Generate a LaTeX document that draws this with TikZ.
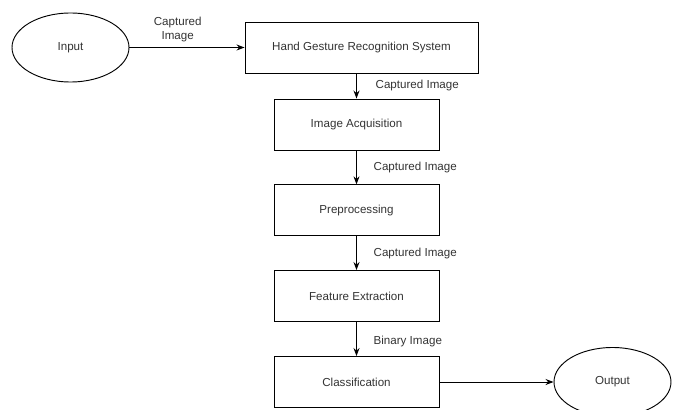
\documentclass[tikz,border=0pt]{standalone}
\usepackage{fontspec}
\setmainfont{Liberation Sans}
\usetikzlibrary{arrows.meta,shapes.geometric}

\begin{document}
\begin{tikzpicture}[x=0.75pt,y=-0.75pt,
		>={Stealth[length=6pt,width=4.5pt]},
		block/.style={draw,line width=0.7pt,minimum width=123.75pt,minimum height=38.25pt,inner sep=0pt,
			font=\fontsize{8.7}{10.5}\selectfont,text=black!80},
		term/.style={draw,ellipse,line width=0.7pt,minimum width=87.75pt,minimum height=51.75pt,inner sep=0pt,
			font=\fontsize{8.7}{10.5}\selectfont,text=black!80},
		lbl/.style={font=\fontsize{8.7}{10.5}\selectfont,text=black!80,inner sep=0.5pt}]
		\useasboundingbox (0,0) rectangle (676,410);
		%
		\node [term] (in) at (70.5,47.5) {Input};
		\node [block,minimum width=174.75pt] (sys) at (361.5,47.5) {Hand Gesture Recognition System};
		\node [block] (acq) at (356.5,124.5) {Image Acquisition};
		\node [block] (pre) at (356.5,210.3) {Preprocessing};
		\node [block] (feat) at (356.5,296) {Feature Extraction};
		\node [block] (cls) at (356.5,382) {Classification};
		\node [term] (out) at (612.5,382) {Output};
		%
		\draw [->,line width=0.7pt] (in) to node [lbl,above,xshift=-7pt,yshift=3pt,align=center] {Captured\\Image} (sys);
		\draw [->,line width=0.7pt] (acq |- sys.south) to node [lbl,anchor=west,xshift=13.5pt] {Captured Image} (acq);
		\draw [->,line width=0.7pt] (acq) to node [lbl,anchor=west,xshift=12pt] {Captured Image} (pre);
		\draw [->,line width=0.7pt] (pre) to node [lbl,anchor=west,xshift=12pt] {Captured Image} (feat);
		\draw [->,line width=0.7pt] (feat) to node [lbl,anchor=west,xshift=12pt,yshift=-2pt] {Binary Image} (cls);
		\draw [->,line width=0.7pt] (cls) to (out);
	\end{tikzpicture}
\end{document}
